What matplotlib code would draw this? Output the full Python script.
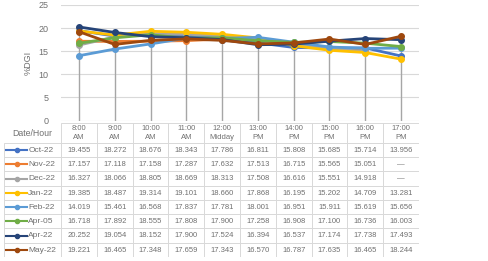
import numpy as np
import matplotlib
matplotlib.use("Agg")
import matplotlib.pyplot as plt

plt.rcParams['font.family'] = ['Liberation Sans', 'DejaVu Sans']

hours = ["8:00\nAM", "9:00\nAM", "10:00\nAM", "11:00\nAM", "12:00\nMidday",
         "13:00\nPM", "14:00\nPM", "15:00\nPM", "16:00\nPM", "17:00\nPM"]
names = ["Oct-22", "Nov-22", "Dec-22", "Jan-22", "Feb-22", "Apr-05", "Apr-22", "May-22"]
colores = ["#4472C4", "#ED7D31", "#A5A5A5", "#FFC000", "#5B9BD5", "#70AD47", "#264478", "#9E480E"]

oct22 = [19.455, 18.272, 18.676, 18.343, 17.786, 16.811, 15.808, 15.685, 15.714, 13.956]
nov22 = [17.157, 17.118, 17.158, 17.287, 17.632, 17.513, 16.715, 15.565, 15.051, None]
dec22 = [16.327, 18.066, 18.805, 18.669, 18.313, 17.508, 16.616, 15.551, 14.918, None]
jan22 = [19.385, 18.487, 19.314, 19.101, 18.660, 17.868, 16.195, 15.202, 14.709, 13.281]
feb22 = [14.019, 15.461, 16.568, 17.837, 17.781, 18.001, 16.951, 15.911, 15.619, 15.656]
apr05 = [16.718, 17.892, 18.555, 17.808, 17.900, 17.258, 16.908, 17.100, 16.736, 16.003]
apr22 = [20.252, 19.054, 18.152, 17.900, 17.524, 16.394, 16.537, 17.174, 17.738, 17.493]
may22 = [19.221, 16.465, 17.348, 17.659, 17.343, 16.570, 16.787, 17.635, 16.465, 18.244]
series = [oct22, nov22, dec22, jan22, feb22, apr05, apr22, may22]

W, H = 489, 261
fig = plt.figure(figsize=(W / 100, H / 100), dpi=100)

# chart area (pixel coords -> figure fraction)
ax = fig.add_axes([61 / W, (H - 120.5) / H, (419 - 61) / W, 115.5 / H])
x = np.arange(len(hours))
datos = np.array([[np.nan if v is None else v for v in s] for s in series])

ax.vlines(x, 0, np.nanmax(datos, axis=0), color="#a6a6a6", lw=1, zorder=1)
for s, c in zip(datos, colores):
    ax.plot(x, s, color=c, lw=2, marker="o", ms=4, zorder=3)

ax.set_xlim(-0.5, len(hours) - 0.5)
ax.set_ylim(0, 25)
ax.set_yticks(range(0, 26, 5))
ax.grid(axis="y", color="#d9d9d9", lw=0.8)
ax.set_axisbelow(True)
for sp in ax.spines.values():
    sp.set_visible(False)
ax.set_xticks([])
ax.tick_params(axis="y", length=0, labelsize=6.5, labelcolor="#707070", pad=9)
ax.set_ylabel("%DGI", fontsize=6.5, color="#707070", labelpad=4)

# data table below
tax = fig.add_axes([4 / W, 4 / H, (419 - 4) / W, 134 / H])
izq = -0.5 - (61 - 4) / 35.8
tax.set_xlim(izq, len(hours) - 0.5)
hdr = 1.4
tax.set_ylim(hdr + len(names), 0)
tax.axis("off")
borde = "#d9d9d9"
gris = "#707070"

# header
for i, h in enumerate(hours):
    tax.add_patch(plt.Rectangle((i - 0.5, 0), 1, hdr, fill=False, ec=borde, lw=0.7))
    tax.text(i, hdr / 2, h, ha="center", va="center", fontsize=5.5, color=gris, linespacing=1.3)
tax.text((izq - 0.5) / 2, hdr / 2 + 0.05, "Date/Hour", ha="center", va="center", fontsize=6.3, color=gris)

for r, (n, s, c) in enumerate(zip(names, series, colores)):
    y0 = hdr + r
    tax.add_patch(plt.Rectangle((izq, y0), -0.5 - izq, 1, fill=False, ec=borde, lw=0.7))
    tax.plot([izq + 0.05, izq + 0.65], [y0 + 0.5, y0 + 0.5], color=c, lw=1.5)
    tax.plot([izq + 0.35], [y0 + 0.5], color=c, marker="o", ms=3)
    tax.text(izq + 0.68, y0 + 0.52, n, ha="left", va="center", fontsize=6, color=gris)
    for i, v in enumerate(s):
        tax.add_patch(plt.Rectangle((i - 0.5, y0), 1, 1, fill=False, ec=borde, lw=0.7))
        txt = "—" if v is None else f"{v:.3f}"
        tax.text(i, y0 + 0.52, txt, ha="center", va="center", fontsize=5.5, color=gris)

fig.savefig("out.png", dpi=100)
